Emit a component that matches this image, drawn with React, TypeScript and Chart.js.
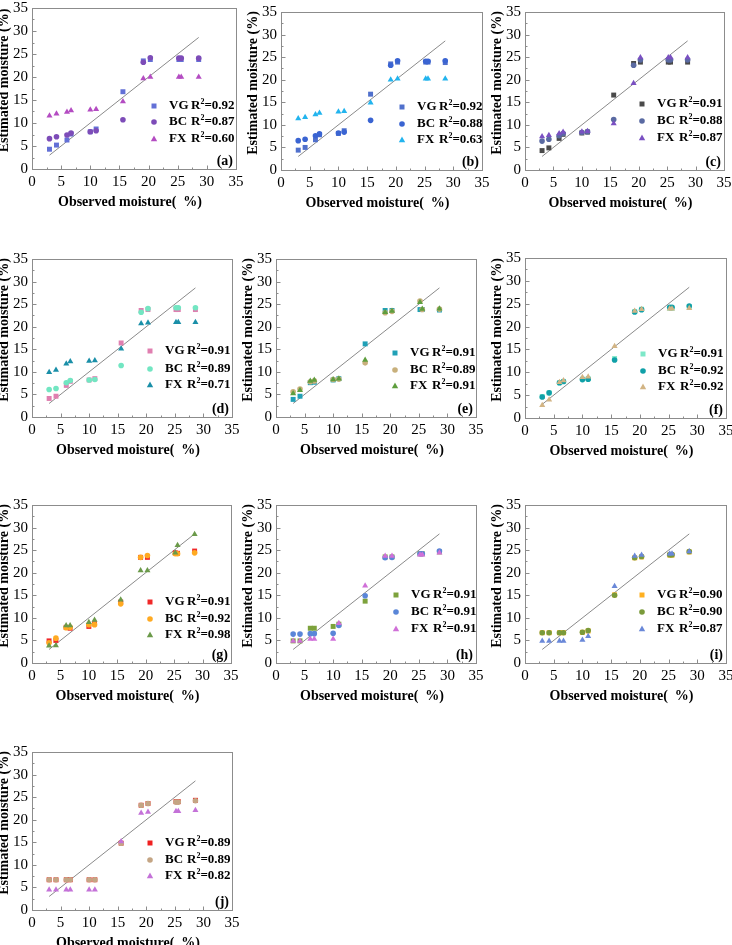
import React, { useEffect, useRef } from 'react';
import { Chart, registerables } from 'chart.js';

Chart.register(...registerables);

// ---------- data ----------
const OBSERVED = [3.0, 4.2, 6.0, 6.7, 10.0, 11.0, 15.6, 19.1, 20.3, 25.2, 25.6, 28.6];
const FIT_LINE_X = [3.0, 28.6];
const AXIS_TICKS = [0, 5, 10, 15, 20, 25, 30, 35];
const SERIES_NAMES = ['VG', 'BC', 'FX'];
const PANEL_LABELS = ['(a)', '(b)', '(c)', '(d)', '(e)', '(f)', '(g)', '(h)', '(i)', '(j)'];
const X_TITLE = 'Observed moisture(  %)';
const Y_TITLE = 'Estimated moisture (%)';

const A_VG = [4.3, 5.2, 6.3, 7.6, 8.1, 8.7, 16.8, 23.5, 23.8, 23.8, 23.8, 23.8];
const A_BC = [6.6, 7.0, 7.4, 7.8, 8.1, 8.3, 10.7, 23.2, 24.2, 24.1, 24.1, 24.1];
const A_FX = [11.6, 12.0, 12.4, 12.7, 12.9, 13.0, 14.7, 19.7, 20.0, 20.0, 20.0, 20.0];
const A_R2 = ['0.92', '0.87', '0.60'];

const B_VG = [4.4, 5.0, 6.7, 7.8, 8.1, 8.7, 16.8, 23.5, 23.9, 23.9, 23.9, 23.8];
const B_BC = [6.5, 6.8, 7.6, 8.0, 8.2, 8.4, 11.0, 23.2, 24.2, 24.1, 24.1, 24.2];
const B_FX = [11.4, 11.7, 12.3, 12.6, 12.9, 13.0, 14.9, 20.0, 20.2, 20.2, 20.2, 20.2];
const B_R2 = ['0.92', '0.88', '0.63'];

const C_VG = [4.3, 4.9, 7.0, 7.9, 8.2, 8.4, 16.6, 23.6, 23.9, 23.9, 23.9, 23.9];
const C_BC = [6.4, 6.8, 7.6, 8.1, 8.3, 8.5, 11.2, 23.2, 24.4, 24.4, 24.4, 24.4];
const C_FX = [7.4, 7.7, 8.1, 8.4, 8.5, 8.6, 10.3, 19.2, 24.9, 24.9, 24.9, 24.9];
const C_R2 = ['0.91', '0.88', '0.87'];

const D_VG = [4.1, 4.6, 7.0, 7.9, 8.2, 8.5, 16.4, 23.6, 23.8, 23.8, 23.8, 23.8];
const D_BC = [6.1, 6.3, 7.6, 8.1, 8.2, 8.3, 11.4, 23.2, 24.0, 24.2, 24.2, 24.2];
const D_FX = [9.9, 10.4, 11.8, 12.3, 12.4, 12.5, 15.1, 20.7, 20.9, 21.0, 21.0, 21.0];
const D_R2 = ['0.91', '0.89', '0.71'];

const E_VG = [3.9, 4.6, 7.6, 7.7, 8.2, 8.5, 16.2, 23.6, 23.6, 23.8, 23.8, 23.7];
const E_BC = [5.6, 6.2, 7.8, 8.0, 8.3, 8.4, 12.0, 23.1, 23.4, 25.7, 23.8, 23.9];
const E_FX = [5.2, 5.9, 8.0, 8.2, 8.3, 8.5, 12.6, 23.2, 23.5, 25.4, 23.9, 24.0];
const E_R2 = ['0.91', '0.89', '0.91'];

const F_VG = [4.7, 5.5, 7.7, 8.0, 8.5, 8.6, 13.0, 23.3, 23.8, 24.0, 24.0, 24.3];
const F_BC = [4.6, 5.5, 7.7, 8.0, 8.4, 8.5, 12.7, 23.2, 23.7, 24.2, 24.2, 24.5];
const F_FX = [2.8, 4.0, 7.8, 8.2, 8.9, 9.0, 15.7, 23.4, 23.8, 23.9, 23.9, 24.0];
const F_R2 = ['0.91', '0.92', '0.92'];

const G_VG = [4.9, 5.0, 7.9, 7.7, 8.1, 8.7, 13.5, 23.4, 23.4, 24.4, 24.3, 24.8];
const G_BC = [4.5, 5.5, 7.8, 7.9, 8.5, 8.5, 13.1, 23.4, 23.8, 24.2, 24.2, 24.4];
const G_FX = [3.8, 3.9, 8.3, 8.3, 9.0, 9.5, 14.0, 20.5, 20.5, 24.4, 26.1, 28.5];
const G_R2 = ['0.91', '0.92', '0.98'];

const H_VG = [4.9, 4.9, 7.7, 7.7, 8.1, 8.6, 13.7, 23.5, 23.5, 24.2, 24.2, 24.6];
const H_BC = [6.4, 6.4, 6.5, 6.5, 6.6, 8.3, 14.9, 23.3, 23.4, 24.2, 24.2, 24.8];
const H_FX = [4.9, 4.9, 5.3, 5.3, 5.3, 8.8, 17.1, 23.7, 23.7, 24.0, 24.0, 24.4];
const H_R2 = ['0.91', '0.91', '0.91'];

const I_VG = [6.7, 6.7, 6.7, 6.7, 6.8, 7.1, 15.1, 23.3, 23.5, 23.9, 23.9, 24.6];
const I_BC = [6.7, 6.7, 6.7, 6.7, 6.8, 7.2, 15.0, 23.3, 23.6, 24.0, 24.0, 24.7];
const I_FX = [4.9, 4.9, 4.9, 4.9, 5.1, 5.9, 17.0, 23.7, 23.9, 24.2, 24.2, 24.7];
const I_R2 = ['0.90', '0.90', '0.87'];

const J_VG = [6.7, 6.7, 6.7, 6.7, 6.7, 6.7, 14.8, 23.2, 23.6, 24.0, 24.0, 24.3];
const J_BC = [6.7, 6.7, 6.7, 6.7, 6.7, 6.7, 14.8, 23.2, 23.6, 23.9, 23.9, 24.2];
const J_FX = [4.5, 4.5, 4.5, 4.5, 4.5, 4.5, 15.2, 21.5, 21.7, 21.9, 21.9, 22.1];
const J_R2 = ['0.89', '0.89', '0.82'];

const PANEL_SERIES = [
  [A_VG, A_BC, A_FX], [B_VG, B_BC, B_FX], [C_VG, C_BC, C_FX], [D_VG, D_BC, D_FX],
  [E_VG, E_BC, E_FX], [F_VG, F_BC, F_FX], [G_VG, G_BC, G_FX], [H_VG, H_BC, H_FX],
  [I_VG, I_BC, I_FX], [J_VG, J_BC, J_FX],
];
const PANEL_R2 = [A_R2, B_R2, C_R2, D_R2, E_R2, F_R2, G_R2, H_R2, I_R2, J_R2];

// ---------- styles ----------
const PANEL_COLORS = [
  ['#6370d6', '#7d4cb8', '#b44cc2'],
  ['#5070cc', '#3a64d2', '#22b4ee'],
  ['#4a4a4a', '#5a6aa2', '#7a50c2'],
  ['#e07fb0', '#72e6c2', '#1a8fa8'],
  ['#20a0b6', '#c8b07c', '#5e9e3e'],
  ['#7de8c8', '#10a0a8', '#d2b484'],
  ['#f02828', '#ffaa22', '#6b9a4a'],
  ['#7da23c', '#5a86d8', '#d070d8'],
  ['#ffb020', '#7a9a3a', '#6a88d8'],
  ['#f02020', '#c4a584', '#c472d8'],
];
const SHAPES = ['rect', 'circle', 'triangle'];

// plot-area boxes (left, top, width, height) and legend placement
const PANEL_LAYOUT = [
  { l: 32, t: 5, w: 204, h: 164, lx: 137, ly: [98, 114, 131] },
  { l: 281, t: 9, w: 201, h: 161, lx: 136, ly: [95, 112, 128] },
  { l: 525, t: 9, w: 199, h: 161, lx: 132, ly: [92, 109, 126] },
  { l: 32, t: 256, w: 200, h: 161, lx: 133, ly: [92, 110, 126] },
  { l: 276, t: 256, w: 200, h: 161, lx: 134, ly: [94, 111, 127] },
  { l: 525, t: 255, w: 201, h: 163, lx: 133, ly: [96, 113, 129] },
  { l: 32, t: 502, w: 199, h: 161, lx: 133, ly: [97, 114, 130] },
  { l: 276, t: 502, w: 200, h: 161, lx: 135, ly: [90, 107, 124] },
  { l: 525, t: 502, w: 201, h: 161, lx: 132, ly: [90, 107, 124] },
  { l: 32, t: 749, w: 200, h: 161, lx: 133, ly: [91, 108, 124] },
];

const PAD_LEFT = 36;
const PAD_TOP = 10;
const PAD_RIGHT = 14;
const PAD_BOTTOM = 46;
const SERIF = '"Liberation Serif", "Times New Roman", serif';

function drawMarker(ctx: CanvasRenderingContext2D, shape: string, x: number, y: number, color: string) {
  ctx.save();
  ctx.fillStyle = color;
  ctx.beginPath();
  if (shape === 'rect') {
    ctx.rect(x - 2.5, y - 2.5, 5, 5);
  } else if (shape === 'circle') {
    ctx.arc(x, y, 2.8, 0, Math.PI * 2);
  } else {
    ctx.moveTo(x, y - 3.5);
    ctx.lineTo(x + 3.2, y + 2.2);
    ctx.lineTo(x - 3.2, y + 2.2);
    ctx.closePath();
  }
  ctx.fill();
  ctx.restore();
}

function Panel({ index }: { index: number }) {
  const ref = useRef<HTMLCanvasElement | null>(null);
  const lay = PANEL_LAYOUT[index];
  const cw = lay.w + PAD_LEFT + PAD_RIGHT;
  const ch = lay.h + PAD_TOP + PAD_BOTTOM;

  useEffect(() => {
    const canvas = ref.current;
    if (!canvas) return;
    const series = PANEL_SERIES[index];
    const colors = PANEL_COLORS[index];
    const r2 = PANEL_R2[index];

    const decor = {
      id: 'decor' + index,
      beforeDatasetsDraw(chart: any) {
        const { ctx, chartArea } = chart;
        const xs = chart.scales.x;
        const ys = chart.scales.y;
        ctx.save();
        ctx.strokeStyle = '#8c8c8c';
        ctx.lineWidth = 1;
        const L = Math.round(chartArea.left) + 0.5;
        const T = Math.round(chartArea.top) + 0.5;
        const R = Math.round(chartArea.right) + 0.5;
        const B = Math.round(chartArea.bottom) + 0.5;
        ctx.strokeRect(L, T, R - L, B - T);
        ctx.beginPath();
        for (let v = 0; v <= 35; v += 2.5) {
          const len = v % 5 === 0 ? 4 : 2;
          const px = Math.round(xs.getPixelForValue(v)) + 0.5;
          ctx.moveTo(px, B);
          ctx.lineTo(px, B - len);
          const py = Math.round(ys.getPixelForValue(v)) + 0.5;
          ctx.moveTo(L, py);
          ctx.lineTo(L + len, py);
        }
        ctx.stroke();
        ctx.restore();
      },
      afterDraw(chart: any) {
        const { ctx, chartArea } = chart;
        ctx.save();
        ctx.fillStyle = '#000';
        // axis titles
        ctx.font = 'bold 14px ' + SERIF;
        ctx.textAlign = 'center';
        ctx.textBaseline = 'middle';
        ctx.fillText(X_TITLE, chartArea.left + (chartArea.right - chartArea.left) / 2 - 4, chartArea.bottom + 33);
        ctx.save();
        ctx.translate(chartArea.left - 28, chartArea.top + (chartArea.bottom - chartArea.top) / 2 - 8);
        ctx.rotate(-Math.PI / 2);
        ctx.fillText(Y_TITLE, 0, 0);
        ctx.restore();
        // legend
        ctx.textAlign = 'left';
        for (let i = 0; i < 3; i++) {
          const tx = chartArea.left + lay.lx;
          const ty = chartArea.top + lay.ly[i];
          drawMarker(ctx, SHAPES[i], tx - 15, ty, colors[i]);
          ctx.fillStyle = '#000';
          ctx.font = 'bold 13px ' + SERIF;
          ctx.fillText(SERIES_NAMES[i], tx, ty);
          let x = tx + 22;
          ctx.fillText('R', x, ty);
          x += ctx.measureText('R').width;
          ctx.font = 'bold 8px ' + SERIF;
          ctx.fillText('2', x, ty - 4);
          x += ctx.measureText('2').width;
          ctx.font = 'bold 13px ' + SERIF;
          ctx.fillText('=' + r2[i], x, ty);
        }
        // panel label
        ctx.font = 'bold 14px ' + SERIF;
        ctx.textAlign = 'right';
        ctx.fillText(PANEL_LABELS[index], chartArea.right - 3, chartArea.bottom - 8);
        ctx.restore();
      },
    };

    const datasets: any[] = [
      {
        label: 'fit',
        data: FIT_LINE_X.map((v) => ({ x: v, y: v })),
        showLine: true,
        borderColor: '#8a8a8a',
        borderWidth: 1,
        pointRadius: 0,
        order: 4,
      },
    ];
    for (let s = 0; s < 3; s++) {
      datasets.push({
        label: SERIES_NAMES[s],
        data: OBSERVED.map((x, i) => ({ x, y: series[s][i] })),
        pointStyle: SHAPES[s],
        pointRadius: s === 1 ? 2.8 : 3.5,
        backgroundColor: colors[s],
        borderColor: colors[s],
        borderWidth: 0,
        order: 3 - s,
      });
    }

    const tickFont = { family: SERIF, size: 15 };
    const chart = new Chart(canvas, {
      type: 'scatter',
      data: { datasets },
      options: {
        responsive: false,
        animation: false,
        devicePixelRatio: 1,
        layout: { padding: { left: 0, top: PAD_TOP, right: PAD_RIGHT, bottom: 0 } },
        plugins: { legend: { display: false }, tooltip: { enabled: false } },
        scales: {
          x: {
            type: 'linear',
            min: 0,
            max: 35,
            afterBuildTicks: (scale: any) => {
              scale.ticks = AXIS_TICKS.map((v) => ({ value: v }));
            },
            afterFit: (scale: any) => {
              scale.height = PAD_BOTTOM;
            },
            grid: { display: false, drawTicks: false },
            border: { display: false },
            ticks: { font: tickFont, color: '#000', padding: 4, autoSkip: false, maxRotation: 0 },
          },
          y: {
            type: 'linear',
            min: 0,
            max: 35,
            afterBuildTicks: (scale: any) => {
              scale.ticks = AXIS_TICKS.map((v) => ({ value: v }));
            },
            afterFit: (scale: any) => {
              scale.width = PAD_LEFT;
            },
            grid: { display: false, drawTicks: false },
            border: { display: false },
            ticks: { font: tickFont, color: '#000', padding: 4, autoSkip: false },
          },
        },
      } as any,
      plugins: [decor],
    });
    return () => chart.destroy();
  }, [index]);

  return (
    <canvas
      ref={ref}
      width={cw}
      height={ch}
      style={{
        position: 'absolute',
        left: lay.l - PAD_LEFT,
        top: lay.t - PAD_TOP,
        width: cw,
        height: ch,
      }}
    />
  );
}

export default function App() {
  return (
    <div
      style={{
        position: 'absolute',
        left: 0,
        top: 0,
        width: 732,
        height: 945,
        overflow: 'hidden',
        background: '#fff',
      }}
    >
      {PANEL_LAYOUT.map((_, i) => (
        <Panel key={i} index={i} />
      ))}
    </div>
  );
}
